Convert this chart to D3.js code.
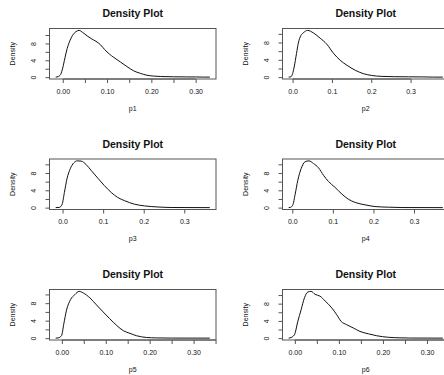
<!DOCTYPE html>
<html>
<head>
<meta charset="utf-8">
<script src="https://cdn.jsdelivr.net/npm/d3@7"></script>
<style>
  body { margin: 0; background: #fff; }
  text { font-family: "Liberation Sans", Arial, sans-serif; fill: #111; }
</style>
</head>
<body>
<script>
// one entry per panel, laid out 3 rows x 2 columns
var panelNames = ["p1", "p2", "p3", "p4", "p5", "p6"];

// range of the density support (x min, x max) for each panel
var xExtents = [
  [-0.016, 0.332], [-0.010, 0.382],
  [-0.017, 0.363], [-0.009, 0.371],
  [-0.014, 0.337], [-0.014, 0.336]
];

// x ticks and their labels (empty label = tick only)
var xTicks = [
  [0, 0.05, 0.10, 0.15, 0.20, 0.25, 0.30],
  [0, 0.1, 0.2, 0.3],
  [0, 0.1, 0.2, 0.3],
  [0, 0.1, 0.2, 0.3],
  [0, 0.05, 0.10, 0.15, 0.20, 0.25, 0.30, 0.35],
  [0, 0.05, 0.10, 0.15, 0.20, 0.25, 0.30, 0.35]
];
var xTickLabels = [
  ["0.00", "", "0.10", "", "0.20", "", "0.30"],
  ["0.0", "0.1", "0.2", "0.3"],
  ["0.0", "0.1", "0.2", "0.3"],
  ["0.0", "0.1", "0.2", "0.3"],
  ["0.00", "", "0.10", "", "0.20", "", "0.30", ""],
  ["0.00", "", "0.10", "", "0.20", "", "0.30", ""]
];

var yTicks = [0, 2, 4, 6, 8, 10];
var yTickLabels = ["0", "", "4", "", "8", ""];

// density curves: [x, density]
var densP1 = [[-0.016,0],[-0.01,0.15],[-0.005,0.6],[0,2.2],[0.005,4.6],[0.01,6.8],[0.016,8.6],
  [0.022,9.9],[0.03,10.8],[0.037,11.1],[0.045,10.6],[0.055,9.8],[0.065,9.1],[0.075,8.5],
  [0.085,7.7],[0.095,6.5],[0.105,5.5],[0.115,4.7],[0.13,3.6],[0.145,2.5],[0.16,1.5],
  [0.175,0.9],[0.19,0.45],[0.205,0.25],[0.22,0.15],[0.25,0.08],[0.28,0.05],[0.3,0.04],
  [0.317,0.01],[0.332,0]];
var densP2 = [[-0.010,0],[-0.004,0.1],[0,0.8],[0.004,2.35],[0.010,5.5],[0.0145,7.85],
  [0.021,9.6],[0.027,10.2],[0.038,10.8],[0.053,10.2],[0.070,9.0],[0.087,7.6],[0.104,5.5],
  [0.121,3.9],[0.138,2.75],[0.159,1.6],[0.18,0.8],[0.2,0.4],[0.227,0.17],[0.26,0.1],
  [0.295,0.07],[0.33,0.05],[0.355,0.01],[0.382,0]];
var densP3 = [[-0.017,0],[-0.008,0.05],[-0.001,0.8],[0.0045,3.5],[0.011,6.7],[0.019,9.0],
  [0.0277,10.35],[0.036,10.8],[0.0457,10.75],[0.058,9.95],[0.0704,8.6],[0.087,6.8],
  [0.103,5.1],[0.12,3.5],[0.136,2.35],[0.153,1.6],[0.177,0.8],[0.202,0.4],[0.235,0.15],
  [0.27,0.03],[0.363,0]];
var densP4 = [[-0.009,0],[-0.005,0.05],[0.001,0.55],[0.007,3.1],[0.0135,6.3],[0.0217,9.0],
  [0.0315,10.6],[0.041,10.8],[0.052,10.2],[0.0645,9.2],[0.077,7.45],[0.089,6.05],
  [0.105,4.7],[0.122,3.15],[0.138,1.95],[0.155,1.2],[0.179,0.65],[0.204,0.25],
  [0.237,0.1],[0.27,0.02],[0.371,0]];
var densP5 = [[-0.014,0],[-0.0084,0.05],[-0.0007,0.55],[0.0046,3.3],[0.0107,6.4],
  [0.0198,8.8],[0.0296,9.95],[0.0395,10.7],[0.0486,10.35],[0.064,9.2],[0.079,7.6],
  [0.094,6.0],[0.109,4.45],[0.125,2.9],[0.14,1.7],[0.155,1.1],[0.17,0.55],[0.193,0.15],
  [0.216,0.05],[0.25,0.01],[0.337,0]];
var densP6 = [[-0.014,0],[-0.011,0.05],[-0.001,0.77],[0.0068,3.9],[0.0143,6.6],[0.022,9.4],
  [0.0295,10.7],[0.037,10.85],[0.046,10.15],[0.057,9.75],[0.069,8.6],[0.084,7.0],
  [0.095,5.45],[0.105,3.9],[0.118,3.1],[0.133,2.35],[0.148,1.55],[0.167,1.0],
  [0.186,0.55],[0.212,0.2],[0.227,0.1],[0.26,0.02],[0.336,0]];
var densities = [densP1, densP2, densP3, densP4, densP5, densP6];

// panel grid and plot box inside each panel
var colStep = 233, rowStep = 130.5;
var box = {left: 49.5, right: 216, top: 28.5, bottom: 79};

var svg = d3.select("body").append("svg")
    .attr("width", 444)
    .attr("height", 375);

panelNames.forEach(function(name, i) {
  var col = i % 2, row = Math.floor(i / 2);
  var g = svg.append("g")
      .attr("transform", "translate(" + (col * colStep) + "," + (row * rowStep) + ")");

  var data = densities[i];
  var ext = xExtents[i];
  var xpad = (ext[1] - ext[0]) * 0.04;
  var ymax = d3.max(data, function(d) { return d[1]; });

  var x = d3.scaleLinear()
      .domain([ext[0] - xpad, ext[1] + xpad])
      .range([box.left, box.right]);
  var y = d3.scaleLinear()
      .domain([-0.04 * ymax, 1.04 * ymax])
      .range([box.bottom, box.top]);

  // density line
  var line = d3.line()
      .curve(d3.curveMonotoneX)
      .x(function(d) { return x(d[0]); })
      .y(function(d) { return y(d[1]); });

  g.append("path")
      .datum(data)
      .attr("d", line)
      .attr("fill", "none")
      .attr("stroke", "#111")
      .attr("stroke-width", 1);

  // box
  g.append("rect")
      .attr("x", box.left)
      .attr("y", box.top)
      .attr("width", box.right - box.left)
      .attr("height", box.bottom - box.top)
      .attr("fill", "none")
      .attr("stroke", "#555")
      .attr("stroke-width", 1);

  // x axis
  var xt = xTicks[i];
  var xAxis = d3.axisBottom(x)
      .tickValues(xt)
      .tickSize(4)
      .tickFormat(function(d, k) { return xTickLabels[i][k]; });
  var gx = g.append("g")
      .attr("transform", "translate(0," + box.bottom + ")")
      .call(xAxis);
  gx.select(".domain")
      .attr("d", "M" + x(xt[0]) + ",0H" + x(xt[xt.length - 1]))
      .attr("stroke", "#555");
  gx.selectAll(".tick line").attr("stroke", "#555");
  gx.selectAll("text")
      .attr("y", 10)
      .style("font-size", "7px")
      .attr("fill", "#222");

  // y axis
  var yAxis = d3.axisLeft(y)
      .tickValues(yTicks)
      .tickSize(4)
      .tickFormat(function(d, k) { return yTickLabels[k]; });
  var gy = g.append("g")
      .attr("transform", "translate(" + box.left + ",0)")
      .call(yAxis);
  gy.select(".domain")
      .attr("d", "M0," + y(yTicks[0]) + "V" + y(yTicks[yTicks.length - 1]))
      .attr("stroke", "#555");
  gy.selectAll(".tick line").attr("stroke", "#555");
  gy.selectAll(".tick text")
      .attr("x", 0).attr("y", 0)
      .attr("dy", 0)
      .attr("text-anchor", "middle")
      .attr("transform", "translate(-15.5,0) rotate(-90)")
      .attr("dy", "0.35em")
      .style("font-size", "7px")
      .attr("fill", "#222");

  // title
  g.append("text")
      .attr("x", (box.left + box.right) / 2)
      .attr("y", 17)
      .attr("text-anchor", "middle")
      .style("font-size", "10.5px")
      .style("font-weight", "bold")
      .text("Density Plot");

  // x label
  g.append("text")
      .attr("x", (box.left + box.right) / 2)
      .attr("y", 110.5)
      .attr("text-anchor", "middle")
      .style("font-size", "7px")
      .attr("fill", "#222")
      .text(name);

  // y label
  g.append("text")
      .attr("transform", "translate(14.5," + ((box.top + box.bottom) / 2) + ") rotate(-90)")
      .attr("text-anchor", "middle")
      .style("font-size", "7px")
      .attr("fill", "#222")
      .text("Density");
});
</script>
</body>
</html>
